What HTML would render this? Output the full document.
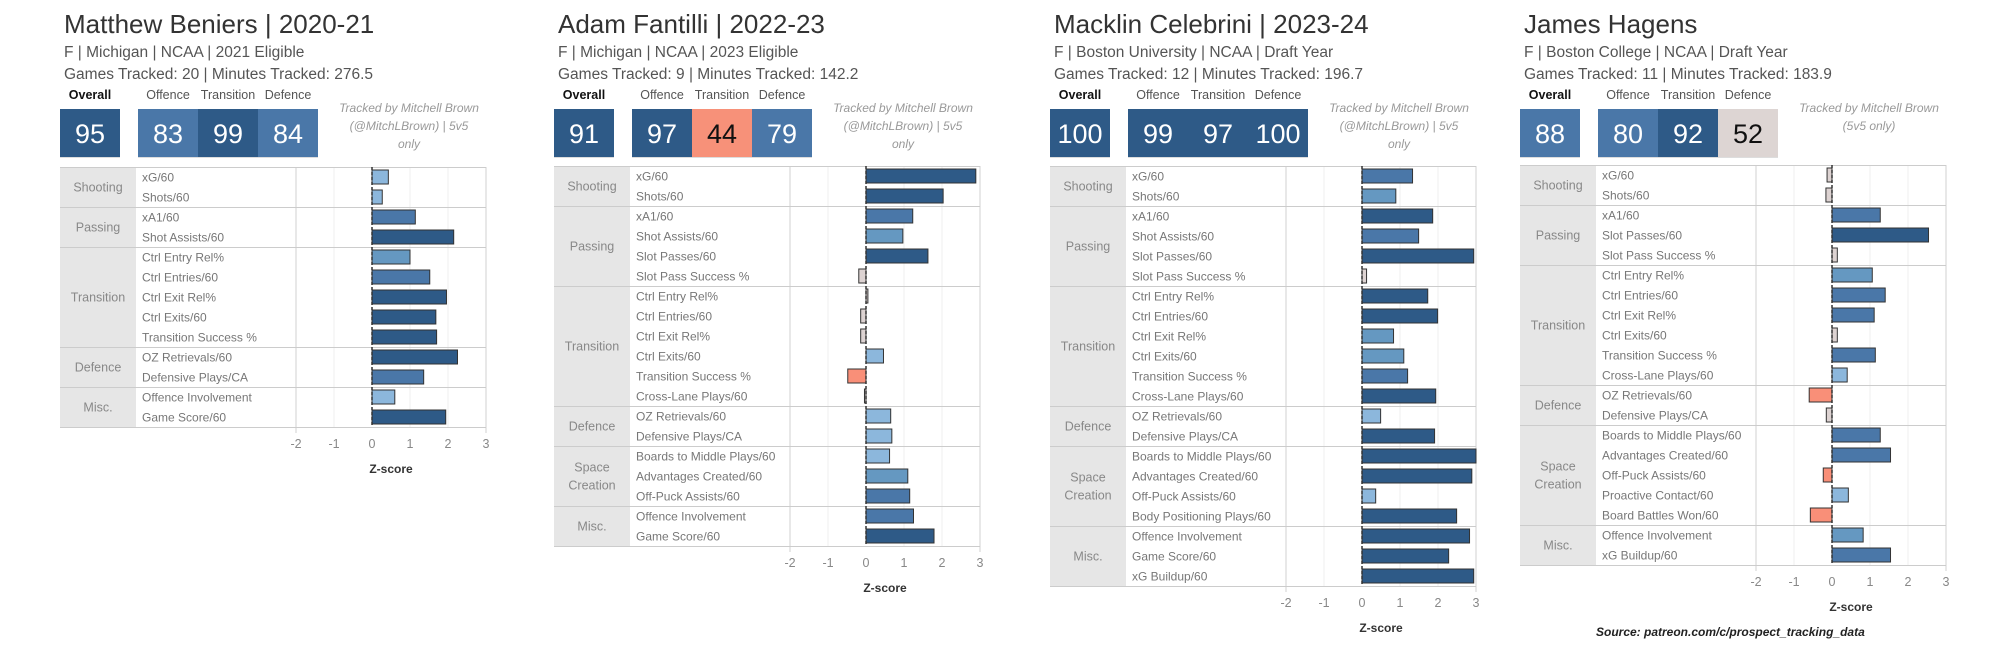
<!DOCTYPE html>
<html><head><meta charset="utf-8">
<style>
html,body{margin:0;padding:0;background:#fff;}
svg{display:block;font-family:"Liberation Sans",sans-serif;}
</style></head>
<body>
<svg id="chart" width="2003" height="649" viewBox="0 0 2003 649" xmlns="http://www.w3.org/2000/svg"></svg>
<script>
const tickValues = [-2, -1, 0, 1, 2, 3];
const tickLabels = ["-2", "-1", "0", "1", "2", "3"];

const p1Groups = ["Shooting", "Passing", "Transition", "Defence", "Misc."];
const p1GroupSizes = [2, 2, 5, 2, 2];
const p1Metrics = ["xG/60","Shots/60","xA1/60","Shot Assists/60","Ctrl Entry Rel%","Ctrl Entries/60","Ctrl Exit Rel%","Ctrl Exits/60","Transition Success %","OZ Retrievals/60","Defensive Plays/CA","Offence Involvement","Game Score/60"];
const p1Values = [0.43, 0.27, 1.14, 2.15, 1.0, 1.52, 1.96, 1.68, 1.70, 2.25, 1.36, 0.6, 1.94];
const p1Scores = [95, 83, 99, 84];

const p2Groups = ["Shooting", "Passing", "Transition", "Defence", "Space|Creation", "Misc."];
const p2GroupSizes = [2, 4, 6, 2, 3, 2];
const p2Metrics = ["xG/60","Shots/60","xA1/60","Shot Assists/60","Slot Passes/60","Slot Pass Success %","Ctrl Entry Rel%","Ctrl Entries/60","Ctrl Exit Rel%","Ctrl Exits/60","Transition Success %","Cross-Lane Plays/60","OZ Retrievals/60","Defensive Plays/CA","Boards to Middle Plays/60","Advantages Created/60","Off-Puck Assists/60","Offence Involvement","Game Score/60"];
const p2Values = [2.89, 2.03, 1.23, 0.97, 1.63, -0.19, 0.05, -0.14, -0.14, 0.46, -0.48, -0.04, 0.65, 0.68, 0.62, 1.10, 1.15, 1.25, 1.79];
const p2Scores = [91, 97, 44, 79];

const p3Groups = ["Shooting", "Passing", "Transition", "Defence", "Space|Creation", "Misc."];
const p3GroupSizes = [2, 4, 6, 2, 4, 3];
const p3Metrics = ["xG/60","Shots/60","xA1/60","Shot Assists/60","Slot Passes/60","Slot Pass Success %","Ctrl Entry Rel%","Ctrl Entries/60","Ctrl Exit Rel%","Ctrl Exits/60","Transition Success %","Cross-Lane Plays/60","OZ Retrievals/60","Defensive Plays/CA","Boards to Middle Plays/60","Advantages Created/60","Off-Puck Assists/60","Body Positioning Plays/60","Offence Involvement","Game Score/60","xG Buildup/60"];
const p3Values = [1.33, 0.89, 1.86, 1.49, 2.94, 0.12, 1.73, 1.99, 0.83, 1.10, 1.20, 1.94, 0.49, 1.91, 3.0, 2.89, 0.36, 2.49, 2.83, 2.28, 2.94];
const p3Scores = [100, 99, 97, 100];

const p4Groups = ["Shooting", "Passing", "Transition", "Defence", "Space|Creation", "Misc."];
const p4GroupSizes = [2, 3, 6, 2, 5, 2];
const p4Metrics = ["xG/60","Shots/60","xA1/60","Slot Passes/60","Slot Pass Success %","Ctrl Entry Rel%","Ctrl Entries/60","Ctrl Exit Rel%","Ctrl Exits/60","Transition Success %","Cross-Lane Plays/60","OZ Retrievals/60","Defensive Plays/CA","Boards to Middle Plays/60","Advantages Created/60","Off-Puck Assists/60","Proactive Contact/60","Board Battles Won/60","Offence Involvement","xG Buildup/60"];
const p4Values = [-0.13, -0.16, 1.27, 2.54, 0.14, 1.06, 1.40, 1.11, 0.14, 1.14, 0.40, -0.60, -0.15, 1.27, 1.54, -0.23, 0.43, -0.57, 0.82, 1.54];
const p4Scores = [88, 80, 92, 52];

const panels = [
  {L:60, T:167, title:"Matthew Beniers | 2020-21", sub:"F | Michigan | NCAA | 2021 Eligible", games:"Games Tracked: 20 | Minutes Tracked: 276.5",
   tracked:["Tracked by Mitchell Brown","(@MitchLBrown) | 5v5","only"], groups:p1Groups, sizes:p1GroupSizes, metrics:p1Metrics, values:p1Values, scores:p1Scores},
  {L:554, T:166, title:"Adam Fantilli | 2022-23", sub:"F | Michigan | NCAA | 2023 Eligible", games:"Games Tracked: 9 | Minutes Tracked: 142.2",
   tracked:["Tracked by Mitchell Brown","(@MitchLBrown) | 5v5","only"], groups:p2Groups, sizes:p2GroupSizes, metrics:p2Metrics, values:p2Values, scores:p2Scores},
  {L:1050, T:166, title:"Macklin Celebrini | 2023-24", sub:"F | Boston University | NCAA | Draft Year", games:"Games Tracked: 12 | Minutes Tracked: 196.7",
   tracked:["Tracked by Mitchell Brown","(@MitchLBrown) | 5v5","only"], groups:p3Groups, sizes:p3GroupSizes, metrics:p3Metrics, values:p3Values, scores:p3Scores},
  {L:1520, T:165, title:"James Hagens", sub:"F | Boston College | NCAA | Draft Year", games:"Games Tracked: 11 | Minutes Tracked: 183.9",
   tracked:["Tracked by Mitchell Brown","(5v5 only)"], groups:p4Groups, sizes:p4GroupSizes, metrics:p4Metrics, values:p4Values, scores:p4Scores}
];

const NS = "http://www.w3.org/2000/svg";
const svg = document.getElementById("chart");
function mk(tag, attrs, parent, text){
  const e = document.createElementNS(NS, tag);
  for (const k in attrs) e.setAttribute(k, attrs[k]);
  if (text !== undefined) e.textContent = text;
  (parent || svg).appendChild(e);
  return e;
}
function barColor(v){
  if (v < -0.21) return "#f98f78";
  if (v < 0.2) return "#ddd3d2";
  if (v < 0.7) return "#8cb7dc";
  if (v < 1.105) return "#6598c1";
  if (v < 1.6) return "#4a77a8";
  return "#2e5a87";
}
function scoreColor(s){
  if (s < 50) return "#f79179";
  if (s < 65) return "#ddd5d3";
  if (s < 90) return "#4a77a8";
  return "#2e5a87";
}
const ROW = 20, LABW = 76, METW = 160, PLOTW = 190, DMIN = -2, DMAX = 3;

panels.forEach((p, pi) => {
  const g = mk("g", {});
  
  
  const L = p.L, T = p.T;
  const t1 = mk("text", {x:L+4, y:33, "font-size":26, fill:"#333"}, g, p.title);
  
  
  const t2 = mk("text", {x:L+4, y:57, "font-size":15.5, fill:"#555"}, g, p.sub);
  
  
  const t3 = mk("text", {x:L+4, y:79, "font-size":15.5, fill:"#555"}, g, p.games);
  
  

  // score boxes
  const boxX = [L, L+78, L+138, L+198];
  const heads = ["Overall", "Offence", "Transition", "Defence"];
  p.scores.forEach((s, i) => {
    const hx = boxX[i] + 30;
    const h = mk("text", {x:hx, y:99, "font-size":12.5, "text-anchor":"middle", fill:i===0?"#111":"#555", "font-weight":i===0?"bold":"normal"}, g, heads[i]);
    
    
    const c = scoreColor(s);
    const r = mk("rect", {x:boxX[i], y:109, width:60, height:48, fill:c}, g);
    
    
    mk("rect", {x:boxX[i], y:157, width:60, height:1, fill:"#ddd"}, g);
    const dark = (c === "#f79179" || c === "#ddd5d3");
    const n = mk("text", {x:hx, y:143, "font-size":27, "text-anchor":"middle", fill:dark?"#111":"#fff"}, g, String(s));
    
    
  });
  p.tracked.forEach((line, i) => {
    const tt = mk("text", {x:L+349, y:112+i*18, "font-size":12, "font-style":"italic", "text-anchor":"middle", fill:"#999"}, g, line);
    
    
  });

  // table
  const n = p.metrics.length;
  const H = n * ROW;
  const px0 = L + LABW + METW;
  const unit = PLOTW / (DMAX - DMIN);
  const xs = v => px0 + (v - DMIN) * unit;
  const lab = mk("rect", {x:L, y:T, width:LABW, height:H, fill:"#e6e6e6"}, g);
  
  
  // gridlines
  tickValues.forEach(tv => {
    if (tv === DMIN || tv === 0) return;
    mk("line", {x1:xs(tv), x2:xs(tv), y1:T, y2:T+H, stroke:"#efefef", "stroke-width":1}, g);
  });
  mk("line", {x1:px0, x2:px0, y1:T, y2:T+H+6, stroke:"#d0d0d0"}, g);
  mk("line", {x1:xs(DMAX), x2:xs(DMAX), y1:T, y2:T+H+6, stroke:"#d0d0d0"}, g);
  mk("line", {x1:L, x2:xs(DMAX), y1:T+0.5, y2:T+0.5, stroke:"#ccc"}, g);
  // groups
  let row = 0;
  p.groups.forEach((gn, gi) => {
    const sz = p.sizes[gi];
    const cy = T + (row + sz/2) * ROW;
    const parts = gn.split("|");
    parts.forEach((pt, k) => {
      const y = cy + 4.5 + (k - (parts.length-1)/2) * 18;
      const ct = mk("text", {x:L+LABW/2, y:y, "font-size":12.5, "text-anchor":"middle", fill:"#888"}, g, pt);
      
      
    });
    row += sz;
    mk("line", {x1:L, x2:xs(DMAX), y1:T+row*ROW+0.5, y2:T+row*ROW+0.5, stroke:"#ccc"}, g);
  });
  // metrics and bars
  p.metrics.forEach((m, i) => {
    const mt = mk("text", {x:L+LABW+6, y:T+i*ROW+14.5, "font-size":12, fill:"#777"}, g, m);
    
    
    const v = p.values[i];
    const x0 = xs(0), x1 = xs(Math.max(DMIN, Math.min(DMAX, v)));
    const b = mk("rect", {x:Math.min(x0,x1), y:T+i*ROW+3, width:Math.max(1, Math.abs(x1-x0)), height:14, fill:barColor(v), stroke:"#333", "stroke-width":1}, g);
    
    
  });
  const zl = mk("line", {x1:xs(0), x2:xs(0), y1:T, y2:T+H, stroke:"#333", "stroke-width":1.5, "stroke-dasharray":"3,2"}, g);
  
  
  // axis
  tickValues.forEach((tv, i) => {
    const tl = mk("text", {x:xs(tv), y:T+H+21, "font-size":12.5, "text-anchor":"middle", fill:"#888"}, g, tickLabels[i]);
    
    
  });
  const at = mk("text", {x:xs(0.5), y:T+H+46, "font-size":12, "text-anchor":"middle", fill:"#333", "font-weight":"bold"}, g, "Z-score");
  
  
});

const src = mk("text", {x:1596, y:636, "font-size":12, "font-style":"italic", "font-weight":"bold", fill:"#222"}, svg, "Source: patreon.com/c/prospect_tracking_data");


</script>
</body></html>
